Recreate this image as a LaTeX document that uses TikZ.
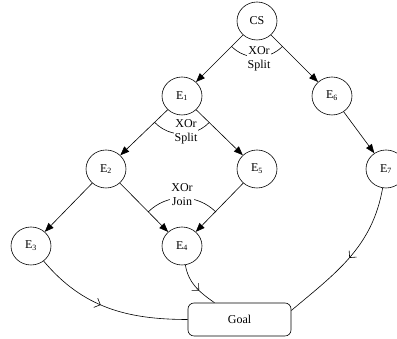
\documentclass[tikz,border=0pt]{standalone}
\usepackage{fontspec}
\setmainfont{Liberation Serif}
\usetikzlibrary{arrows.meta,decorations.markings,shapes.geometric,calc}

\tikzset{
  event/.style={draw, ellipse, line width=0.6pt, minimum width=40pt,
    minimum height=38pt, inner sep=0pt, font=\fontsize{12}{13}\selectfont},
  goalbox/.style={draw, rounded corners=6pt, line width=0.6pt,
    minimum width=103pt, minimum height=33pt, inner sep=0pt,
    font=\fontsize{12}{13}\selectfont},
  flow/.style={line width=0.6pt, -{Triangle[length=9pt,width=7pt]}},
  gatearc/.style={line width=0.6pt},
  gate/.style={fill=white, inner sep=1pt, align=center,
    font=\fontsize{12}{14}\selectfont},
  midvee/.style={line width=0.6pt, postaction={decorate},
    decoration={markings, mark=at position #1 with
      {\arrow{Straight Barb[length=5pt,width=10pt]}}}}
}

\begin{document}
\begin{tikzpicture}[x=1pt,y=1pt]
                \useasboundingbox (0,0) rectangle (397,339);
                % events
                \node[event] (CS) at (257,318) {CS};
                \node[event] (E1) at (182,243) {E\textsubscript{1}};
                \node[event] (E6) at (332,243) {E\textsubscript{6}};
                \node[event] (E2) at (106,170) {E\textsubscript{2}};
                \node[event] (E5) at (257,170) {E\textsubscript{5}};
                \node[event] (E7) at (386,170) {E\textsubscript{7}};
                \node[event] (E3) at (31,93) {E\textsubscript{3}};
                \node[event] (E4) at (182,93) {E\textsubscript{4}};
                \node[goalbox] (Goal) at (239.5,19.5) {Goal};
                % edges
                \draw[flow] (CS) -- (E1);
                \draw[flow] (CS) -- (E6);
                \draw[flow] (E1) -- (E2);
                \draw[flow] (E1) -- (E5);
                \draw[flow] (E6) -- (E7);
                \draw[flow] (E2) -- (E3);
                \draw[flow] (E2) -- (E4);
                \draw[flow] (E5) -- (E4);
                % XOr arcs
                \draw[gatearc] ([shift={(225:36pt)}]CS.center) arc[start angle=225,end angle=315,radius=36pt];
                \draw[gatearc] ([shift={(224:38pt)}]E1.center) arc[start angle=224,end angle=316,radius=38pt];
                \draw[gatearc] ([shift={(45:48pt)}]E4.center) arc[start angle=45,end angle=135,radius=48pt];
                \node[gate] (splitA) at (259,280) {XOr\\Split};
                \node[gate] (splitB) at (186,207.5) {XOr\\Split};
                \node[gate] (joinA) at (182,144) {XOr\\Join};
                % to the goal
                \draw[midvee=0.45] (E3) to[out=-50,in=180] (Goal.west);
                \draw[midvee=0.6] (E4) to[out=-80,in=145] ([xshift=-25pt]Goal.north);
                \draw[midvee=0.5] (E7) to[out=-100,in=40] ([yshift=9pt]Goal.east);
            \end{tikzpicture}
\end{document}
